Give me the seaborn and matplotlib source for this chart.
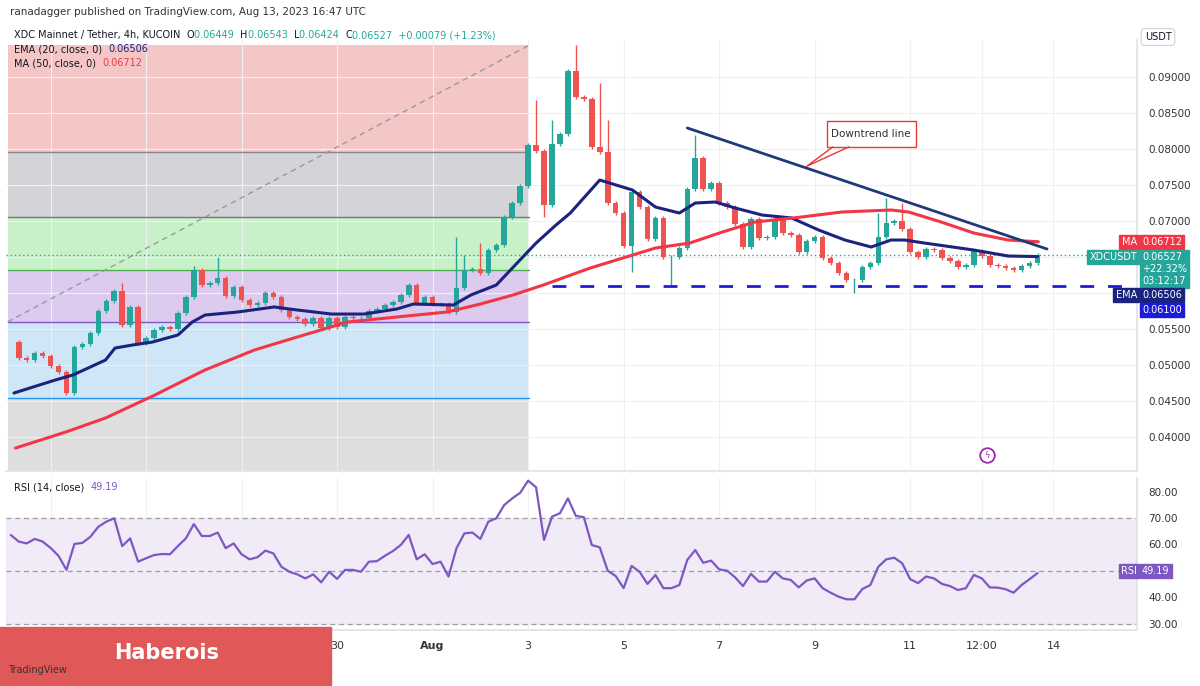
import matplotlib
matplotlib.use("Agg")
import matplotlib.pyplot as plt
import numpy as np
import pandas as pd
import seaborn as sns
from matplotlib.patches import Rectangle

# ---- data (4h candles, XDC/USDT) ----
first_open = 0.05319
closes = [
    0.05097, 0.05069, 0.05167, 0.05125, 0.04986, 0.04903, 0.04611, 0.05250, 0.05292, 0.05444,
    0.05750, 0.05889, 0.06028, 0.05556, 0.05806, 0.05306, 0.05375, 0.05486, 0.05528, 0.05500,
    0.05722, 0.05944, 0.06319, 0.06111, 0.06139, 0.06208, 0.05958, 0.06083, 0.05903, 0.05833,
    0.05861, 0.06000, 0.05944,
    0.05764, 0.05667, 0.05639, 0.05569, 0.05653, 0.05514, 0.05653, 0.05528, 0.05667, 0.05653,
    0.05653, 0.05750, 0.05778, 0.05833, 0.05875, 0.05972, 0.06111, 0.05861, 0.05944, 0.05847,
    0.05847, 0.05736, 0.06069, 0.06319, 0.06333, 0.06278, 0.06597, 0.06667, 0.07056, 0.07250,
    0.07486, 0.08056,
    0.07972, 0.07222, 0.08069, 0.08208, 0.09083, 0.08722, 0.08694, 0.08028, 0.07958, 0.07250,
    0.07111, 0.06653, 0.07403, 0.07194, 0.06750, 0.07042, 0.06500, 0.06500, 0.06625, 0.07444,
    0.07875, 0.07444, 0.07528, 0.07250, 0.07194, 0.06958, 0.06639, 0.07028, 0.06764, 0.06778,
    0.07028, 0.06833, 0.06806, 0.06569,
    0.06722, 0.06778, 0.06486, 0.06417, 0.06278, 0.06181, 0.06181, 0.06361, 0.06417, 0.06778,
    0.06972, 0.07000, 0.06889, 0.06569, 0.06500, 0.06611, 0.06597, 0.06486, 0.06444, 0.06361,
    0.06389, 0.06583, 0.06514, 0.06389, 0.06375, 0.06347, 0.06319, 0.06375, 0.06417, 0.06527,
]
# notable wick extremes (candle index -> price)
high_marks = {13: 0.06139, 22: 0.06375, 25: 0.06500, 55: 0.06780, 56: 0.06530, 58: 0.06690,
              65: 0.08680, 67: 0.08400, 70: 0.09444, 73: 0.08920, 74: 0.08400, 85: 0.08190,
              108: 0.07110, 109: 0.07320, 111: 0.07250}
low_marks = {6: 0.04580, 77: 0.06290, 82: 0.06110, 105: 0.06000, 66: 0.07060}

ema_idx = [-0.6, 4.6, 6.8, 10.9, 12.1, 14.3, 16.8, 20, 21.8, 23.4, 27.5, 32.1, 35, 39.3, 43.4,
           47.5, 49.6, 54.6, 56.8, 60, 62.5, 65, 67.5, 69.3, 73, 77.1, 80, 83, 85, 87.5, 90,
           93.4, 97.1, 100.5, 103.8, 107.1, 109.6, 111.3, 113.8, 120, 124.3, 128]
ema_val = [0.04611, 0.04792, 0.04861, 0.05069, 0.05236, 0.05278, 0.05319, 0.05417, 0.05597,
           0.05694, 0.05736, 0.05806, 0.05764, 0.05708, 0.05708, 0.05778, 0.05847, 0.05833,
           0.05972, 0.06111, 0.06403, 0.06694, 0.06944, 0.07111, 0.07569, 0.07431, 0.07194,
           0.07111, 0.07250, 0.07264, 0.07181, 0.07083, 0.07042, 0.06875, 0.06736, 0.06639,
           0.06736, 0.06736, 0.06694, 0.06597, 0.06514, 0.06506]
ma_idx = [-0.4, 5.9, 10.9, 17.1, 23.4, 29.6, 35, 41.3, 47.5, 53.8, 58, 62.1, 65.9, 71.8, 75.9,
          80, 84.3, 88.4, 92.5, 98.4, 103.4, 109.6, 111.8, 115.9, 120, 124.3, 128.1]
ma_val = [0.03847, 0.04069, 0.04264, 0.04583, 0.04931, 0.05208, 0.05389, 0.05597, 0.05667,
          0.05736, 0.05847, 0.05972, 0.06111, 0.06347, 0.06486, 0.06625, 0.06694, 0.06847,
          0.06986, 0.07056, 0.07125, 0.07153, 0.07125, 0.06986, 0.06833, 0.06736, 0.06712]

rsi = [63.6, 61.1, 60.4, 62.1, 61.1, 58.7, 55.7, 50.4, 60.2, 60.6, 62.9, 66.7, 68.6, 69.9, 59.4,
       62.3, 53.5, 54.8, 56.0, 56.4, 56.3, 59.4, 62.3, 67.7, 63.2, 63.2, 64.5, 58.6, 60.4, 56.3,
       54.4, 55.2, 57.7, 56.6, 51.6, 49.7, 48.7, 47.2, 48.7, 45.7, 49.7, 47.0, 50.4, 50.4, 49.7,
       53.5, 53.7, 55.7, 57.5, 59.8, 63.6, 54.4, 56.3, 52.6, 53.5, 47.9, 58.6, 64.2, 64.5, 62.1,
       68.6, 69.9, 74.9, 77.4, 79.5, 84.1, 81.6,
       61.7, 70.5, 71.8, 77.4, 70.8, 70.3, 59.8, 58.9, 50.1, 48.1, 43.5, 51.9, 49.7, 45.1, 48.5,
       43.5, 43.5, 44.7, 54.2, 57.9, 53.1, 53.9, 50.6, 50.1, 47.6, 44.3, 48.9, 46.0, 46.0, 49.7,
       47.2, 46.6, 43.8, 46.4, 47.2, 43.5, 41.8, 40.3, 39.3, 39.3, 43.2, 44.7, 51.6, 54.4, 55.0,
       52.9, 46.9, 45.4, 47.9, 47.2, 45.1, 44.3, 42.8, 43.5, 48.5, 47.2, 43.8, 43.7, 43.1, 41.8,
       44.7, 46.9, 49.19]

date_ticks = [4, 16, 28, 40, 52, 64, 76, 88, 100, 112, 121, 130]
date_labels = ["24", "26", "28", "30", "Aug", "3", "5", "7", "9", "11", "12:00", "14"]
# ticks whose labels sit under the price tags are left blank, as in the chart
price_ticks = [0.04, 0.045, 0.05, 0.055, 0.06, 0.065, 0.07, 0.075, 0.08, 0.085, 0.09]
price_labels = ["0.04000", "0.04500", "0.05000", "0.05500", "", "", "0.07000", "0.07500",
                "0.08000", "0.08500", "0.09000"]
rsi_ticks = [30, 40, 50, 60, 70, 80]
rsi_labels = ["30.00", "40.00", "", "60.00", "70.00", "80.00"]

# ---- build candles ----
n = len(closes)
opens = [first_open] + closes[:-1]
df = pd.DataFrame({"i": np.arange(n), "open": opens, "close": closes})
df["high"] = df[["open", "close"]].max(axis=1) + 0.00025
df["low"] = df[["open", "close"]].min(axis=1) - 0.00025
for k, v in high_marks.items():
    df.loc[k, "high"] = v
for k, v in low_marks.items():
    df.loc[k, "low"] = v

GREEN, RED = "#26a69a", "#ef5350"
sns.set_theme(style="white")
fig = plt.figure(figsize=(12, 6.86), dpi=100)
ax = fig.add_axes([0.005, 0.3134, 0.9425, 0.6283])
axr = fig.add_axes([0.005, 0.0816, 0.9425, 0.2216], sharex=ax)
xlim = (-1.6, 140.5)

# position-tool zones on the left
zones = [(0.07958, 0.09444, "#f5c6c6"), (0.07056, 0.07958, "#d3d3d8"), (0.0632, 0.07056, "#c9f1c9"),
         (0.05597, 0.0632, "#dccbee"), (0.04542, 0.05597, "#cfe6f6"), (0.03528, 0.04542, "#dedede")]
zone_edges = {0.07958: "#888888", 0.07056: "#777777", 0.0632: "#4caf50", 0.05597: "#7e57c2", 0.04542: "#2196f3"}
for lo, hi, c in zones:
    ax.add_patch(Rectangle((-1.4, lo), 65.5, hi - lo, color=c, lw=0, zorder=0))
for yv, c in zone_edges.items():
    ax.plot([-1.4, 64.1], [yv, yv], color=c, lw=1, zorder=1)
ax.plot([-1.4, 64.1], [0.0560, 0.0944], color="#999999", lw=1, ls=(0, (4, 3)), zorder=1)

for t in date_ticks:
    ax.axvline(t, color="#f0f0f3", lw=0.8, zorder=0.5)
    axr.axvline(t, color="#f0f0f3", lw=0.8, zorder=0.5)
for p in price_ticks:
    ax.axhline(p, color="#f0f0f3", lw=0.8, zorder=0.5)

# candles
for r in df.itertuples():
    c = GREEN if r.close >= r.open else RED
    ax.vlines(r.i, r.low, r.high, color=c, lw=1, zorder=3)
    ax.add_patch(Rectangle((r.i - 0.35, min(r.open, r.close)), 0.7,
                           max(abs(r.close - r.open), 0.00004), color=c, lw=0, zorder=4))

sns.lineplot(x=ema_idx, y=ema_val, ax=ax, color="#1a237e", lw=2.2, zorder=5)
sns.lineplot(x=ma_idx, y=ma_val, ax=ax, color="#f23645", lw=2.2, zorder=5)

ax.axhline(closes[-1], color="#26a69a", lw=1, ls=(0, (1, 2)), zorder=2)
ax.plot([67, 139.5], [0.0610, 0.0610], color="#1c1cd6", lw=2, ls=(0, (5, 5)), zorder=6)
ax.plot([84, 129.2], [0.08292, 0.06611], color="#1f3a7a", lw=2, zorder=6)

# annotation
ax.add_patch(Rectangle((101.5, 0.0803), 11.2, 0.0036, fc="white", ec="#e53935", lw=1, zorder=7))
ax.text(107.1, 0.0821, "Downtrend line", fontsize=7.5, ha="center", va="center", color="#333333", zorder=8)
ax.plot([102.3, 99, 104.3], [0.0803, 0.0776, 0.0803], color="#e53935", lw=1, zorder=7)

ax.set_xlim(*xlim)
ax.set_ylim(0.03528, 0.09514)
ax.yaxis.tick_right()
ax.set_yticks(price_ticks)
ax.set_yticklabels(price_labels, fontsize=7.5, color="#333333")
ax.tick_params(axis="y", length=0, pad=8)
ax.tick_params(axis="x", labelbottom=False, length=0)
for s in ax.spines.values():
    s.set_visible(False)
ax.spines["right"].set_visible(True)
ax.spines["right"].set_color("#e0e3eb")
ax.spines["bottom"].set_visible(True)
ax.spines["bottom"].set_color("#e0e3eb")

# lightning icon
ax.scatter([121.6], [0.0375], s=110, facecolors="white", edgecolors="#9c27b0", lw=1.3, zorder=8)
ax.text(121.6, 0.0375, "\u03df", fontsize=6, color="#9c27b0", ha="center", va="center", zorder=9)

# RSI pane
rsi_x = np.arange(len(rsi)) - (len(rsi) - n)
axr.axhspan(30, 70, color="#ede7f6", alpha=0.8, zorder=0)
for lv in (70, 50, 30):
    axr.axhline(lv, color="#9e9e9e", lw=0.9, ls=(0, (4, 3)), zorder=1)
sns.lineplot(x=rsi_x, y=rsi, ax=axr, color="#7e57c2", lw=1.6, zorder=3)
axr.set_ylim(27.7, 85.1)
axr.yaxis.tick_right()
axr.set_yticks(rsi_ticks)
axr.set_yticklabels(rsi_labels, fontsize=7.5, color="#333333")
axr.tick_params(axis="y", length=0, pad=8)
axr.set_xticks(date_ticks)
axr.set_xticklabels(date_labels, fontsize=8, color="#333333")
for lab in axr.get_xticklabels():
    if lab.get_text() == "Aug":
        lab.set_fontweight("bold")
axr.tick_params(axis="x", length=0, pad=8)
for s in axr.spines.values():
    s.set_visible(False)
axr.spines["right"].set_visible(True)
axr.spines["right"].set_color("#e0e3eb")
axr.spines["bottom"].set_visible(True)
axr.spines["bottom"].set_color("#e0e3eb")
axr.set_xlim(*xlim)

# ---- texts in figure pixels ----
def fx(x):
    return x / 1200


def fy(y):
    return 1 - y / 686


renderer = fig.canvas.get_renderer()


def chain(x0, y, parts, size=7):
    # place coloured text pieces one after another
    x = x0
    for t, c in parts:
        tt = fig.text(fx(x), fy(y), t, fontsize=size, color=c, va="center")
        x += tt.get_window_extent(renderer).width


fig.text(fx(10), fy(12), "ranadagger published on TradingView.com, Aug 13, 2023 16:47 UTC",
         fontsize=7.5, color="#333333", va="center")
chain(14, 35, [("XDC Mainnet / Tether, 4h, KUCOIN  ", "#131722"), ("O", "#131722"), ("0.06449  ", GREEN),
               ("H", "#131722"), ("0.06543  ", GREEN), ("L", "#131722"), ("0.06424  ", GREEN),
               ("C", "#131722"), ("0.06527  +0.00079 (+1.23%)", GREEN)])
chain(14, 49, [("EMA (20, close, 0)  ", "#131722"), ("0.06506", "#1a237e")])
chain(14, 63, [("MA (50, close, 0)  ", "#131722"), ("0.06712", "#f23645")])
chain(14, 487, [("RSI (14, close)  ", "#131722"), ("49.19", "#7e57c2")])
fig.text(fx(1158), fy(37), "USDT", fontsize=7, color="#131722", va="center", ha="center",
         bbox=dict(boxstyle="round,pad=0.35", fc="white", ec="#cfd3dc", lw=0.8))

# price tags on the right axis
def tag(y, label, value, col):
    fig.text(fx(1137), fy(y), label, fontsize=7, color="white", ha="right", va="center",
             bbox=dict(boxstyle="square,pad=0.25", fc=col, ec=col))
    fig.text(fx(1142), fy(y), value, fontsize=7, color="white", ha="left", va="center",
             bbox=dict(boxstyle="square,pad=0.25", fc=col, ec=col))


tag(242, "MA", "0.06712", "#f23645")
fig.text(fx(1137), fy(257), "XDCUSDT", fontsize=7, color="white", ha="right", va="center",
         bbox=dict(boxstyle="square,pad=0.25", fc=GREEN, ec=GREEN))
fig.text(fx(1142), fy(269), "0.06527\n+22.32%\n03:12:17", fontsize=7, color="white", ha="left",
         va="center", linespacing=1.2, bbox=dict(boxstyle="square,pad=0.25", fc=GREEN, ec=GREEN))
tag(295, "EMA", "0.06506", "#1a237e")
fig.text(fx(1142), fy(310), "0.06100", fontsize=7, color="white", ha="left", va="center",
         bbox=dict(boxstyle="square,pad=0.25", fc="#1c1cd6", ec="#1c1cd6"))
tag(571, "RSI", "49.19", "#7e57c2")

# watermark bar bottom-left
fig.patches.append(Rectangle((0, 0), fx(331), fy(627), transform=fig.transFigure,
                             color="#e05858", zorder=10))
fig.text(fx(167), fy(653), "Haberois", fontsize=15, fontweight="bold", color="white",
         ha="center", va="center", zorder=11)
fig.text(fx(8), fy(670), "TradingView", fontsize=7, color="#333333", va="center", zorder=11)

fig.savefig("out.png", dpi=100)
